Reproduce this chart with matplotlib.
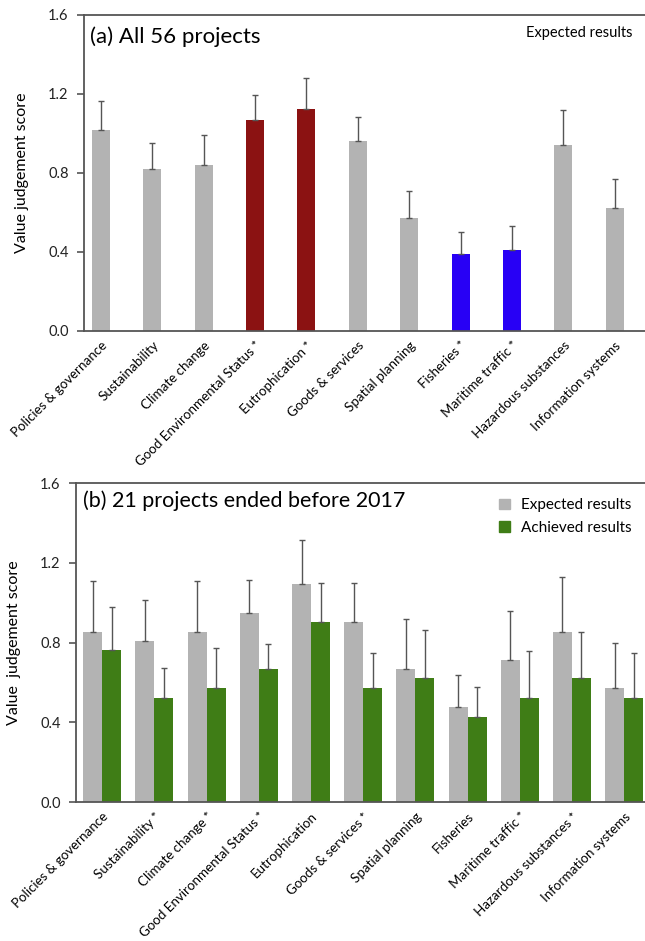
import numpy as np
import matplotlib
matplotlib.use("Agg")
from matplotlib import pyplot as plt
from matplotlib.patches import Patch

plt.rcParams['font.family'] = ['Lato', 'DejaVu Sans']

# Themes for panel (a), all 56 projects
themes_a = ['Policies & governance', 'Sustainability', 'Climate change',
            'Good Environmental Status *', 'Eutrophication *', 'Goods & services',
            'Spatial planning', 'Fisheries *', 'Maritime traffic *',
            'Hazardous substances', 'Information systems']
expected_a = [1.02, 0.82, 0.84, 1.07, 1.125, 0.962, 0.572, 0.392, 0.411, 0.943, 0.621]
expected_a_err = [0.145, 0.13, 0.15, 0.125, 0.158, 0.122, 0.136, 0.111, 0.119, 0.178, 0.146]
bar_colors_a = ['#b3b3b3', '#b3b3b3', '#b3b3b3', '#8b1212', '#8b1212', '#b3b3b3',
                '#b3b3b3', '#2800f5', '#2800f5', '#b3b3b3', '#b3b3b3']

# Themes for panel (b), 21 projects ended before 2017
themes_b = ['Policies & governance', 'Sustainability *', 'Climate change *',
            'Good Environmental Status *', 'Eutrophication', 'Goods & services *',
            'Spatial planning', 'Fisheries', 'Maritime traffic *',
            'Hazardous substances *', 'Information systems']
expected_b = [0.854, 0.809, 0.854, 0.95, 1.094, 0.905, 0.666, 0.475, 0.714, 0.854, 0.570]
expected_b_err = [0.255, 0.203, 0.255, 0.165, 0.22, 0.194, 0.252, 0.162, 0.243, 0.275, 0.228]
achieved_b = [0.761, 0.52, 0.570, 0.666, 0.905, 0.570, 0.620, 0.426, 0.52, 0.620, 0.52]
achieved_b_err = [0.219, 0.152, 0.201, 0.127, 0.194, 0.179, 0.243, 0.151, 0.239, 0.231, 0.229]

gray = '#b3b3b3'
green = '#3f7d16'
err_color = '#555555'
spine_color = '#555555'

fig = plt.figure(figsize=(6.45, 9.41), dpi=100)
ax1 = fig.add_axes([0.1302, 0.6483, 0.8698, 0.3358])
ax2 = fig.add_axes([0.1178, 0.1477, 0.8822, 0.339])


def style_axis(ax, labels, ylabel):
    ax.set_ylim(0, 1.6)
    ax.set_yticks([0.0, 0.4, 0.8, 1.2, 1.6])
    ax.set_yticklabels(['0.0', '0.4', '0.8', '1.2', '1.6'])
    ax.set_xticks(np.arange(len(labels)))
    ax.set_xticklabels(labels, rotation=45, ha='right', rotation_mode='anchor',
                       fontsize=9.6)
    ax.tick_params(axis='x', length=0, pad=6)
    ax.tick_params(axis='y', direction='out', length=5, width=1.2, pad=6,
                   colors=spine_color, labelcolor='#222222', labelsize=10.5)
    ax.spines['right'].set_visible(False)
    for s in ['left', 'top', 'bottom']:
        ax.spines[s].set_color(spine_color)
        ax.spines[s].set_linewidth(1.3)
    ax.set_ylabel(ylabel, fontsize=11.5, labelpad=14)


# (a) expected results for all projects
x = np.arange(len(themes_a))
w = 0.35
ax1.bar(x, expected_a, width=w, color=bar_colors_a, zorder=2)
ax1.errorbar(x, expected_a, yerr=[np.zeros(len(x)), expected_a_err], fmt='none',
             ecolor=err_color, elinewidth=1, capsize=2.5, capthick=1, zorder=3)
ax1.set_xlim(-0.33, 10.59)
style_axis(ax1, themes_a, 'Value judgement score')
ax1.text(0.011, 0.93, '(a) All 56 projects', transform=ax1.transAxes,
         fontsize=16, va='center', ha='left')
ax1.text(0.977, 0.943, 'Expected results', transform=ax1.transAxes,
         fontsize=10.5, va='center', ha='right')

# (b) expected vs achieved for completed projects
x = np.arange(len(themes_b))
w = 0.364
ax2.bar(x - w / 2, expected_b, width=w, color=gray, zorder=2)
ax2.bar(x + w / 2, achieved_b, width=w, color=green, zorder=2)
ax2.errorbar(x - w / 2, expected_b, yerr=[np.zeros(len(x)), expected_b_err],
             fmt='none', ecolor=err_color, elinewidth=1, capsize=2.5, capthick=1, zorder=3)
ax2.errorbar(x + w / 2, achieved_b, yerr=[np.zeros(len(x)), achieved_b_err],
             fmt='none', ecolor=err_color, elinewidth=1, capsize=2.5, capthick=1, zorder=3)
ax2.set_xlim(-0.504, 10.40)
style_axis(ax2, themes_b, 'Value  judgement score')
ax2.text(0.012, 0.945, '(b) 21 projects ended before 2017', transform=ax2.transAxes,
         fontsize=15.5, va='center', ha='left')
ax2.legend(handles=[Patch(color=gray, label='Expected results'),
                    Patch(color=green, label='Achieved results')],
           loc='upper right', bbox_to_anchor=(1.0, 0.995), frameon=False,
           fontsize=11, handlelength=0.7, handleheight=0.7, handletextpad=0.7,
           labelspacing=0.55)

fig.savefig('out.png', dpi=100)
